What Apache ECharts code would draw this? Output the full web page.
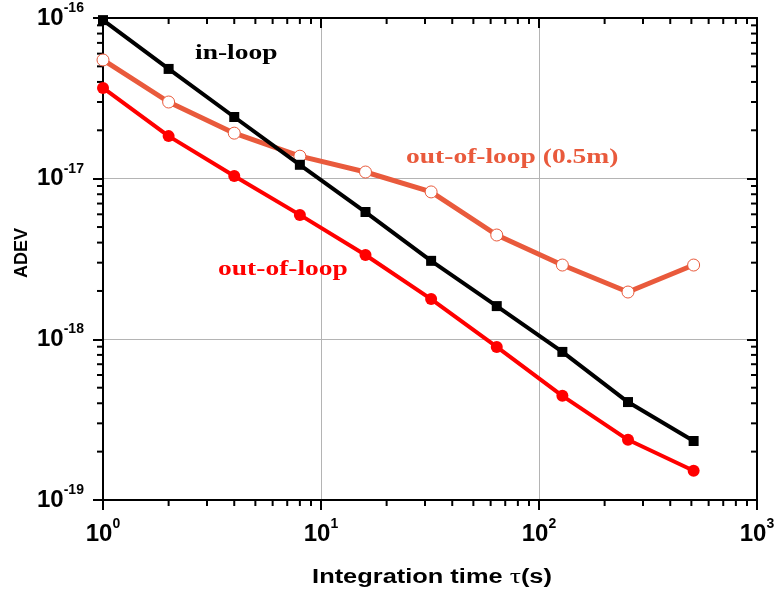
<!DOCTYPE html>
<html><head><meta charset="utf-8">
<script src="https://cdn.jsdelivr.net/npm/echarts@6/dist/echarts.min.js"></script>
<style>html,body{margin:0;padding:0;background:#fff}#c{width:774px;height:597px}</style>
</head><body><div id="c"></div>
<script>
// integration time tau (s)
const tau = [1, 2, 4, 8, 16, 32, 64, 128, 256, 512];
// ADEV values
const inLoop    = [9.7e-17, 4.82e-17, 2.42e-17, 1.22e-17, 6.2e-18, 3.08e-18, 1.61e-18, 8.35e-19, 4.07e-19, 2.33e-19];
const outLoop   = [3.67e-17, 1.84e-17, 1.04e-17, 5.95e-18, 3.35e-18, 1.78e-18, 8.97e-19, 4.45e-19, 2.37e-19, 1.52e-19];
const outLoop05 = [5.48e-17, 3.0e-17, 1.92e-17, 1.38e-17, 1.10e-17, 8.27e-18, 4.46e-18, 2.9e-18, 1.97e-18, 2.9e-18];
// axis ticks
const X_MIN = 1, X_MAX = 1000;
const Y_MIN = 1e-19, Y_MAX = 1e-16;
const xDecades = [1, 10, 100];
const yDecades = [1e-19, 1e-18, 1e-17];
const mantissas = [2, 3, 4, 5, 6, 7, 8, 9];
const xMinor = xDecades.flatMap(d => mantissas.map(m => m * d));
const yMinor = yDecades.flatMap(d => mantissas.map(m => m * d));

const cBlack = '#000000', cRed = '#ff0000', cOrange = '#e95a3c';
const sans = '"Liberation Sans", Arial, sans-serif';
const serif = '"Liberation Serif", "Times New Roman", serif';

function powLabel(v) {
  const e = Math.round(Math.log10(v));
  return '{b|10}{s|' + e + '}';
}
const labelRich = {
  b: { fontSize: 24, fontWeight: 'bold', fontFamily: sans, color: '#000', lineHeight: 34 },
  s: { fontSize: 14, fontWeight: 'bold', fontFamily: sans, color: '#000', lineHeight: 14, verticalAlign: 'top' }
};
const axisLine = { show: true, onZero: false, lineStyle: { color: '#000', width: 2 } };
const xs = (vals) => tau.map((t, i) => [t, vals[i]]);

const chart = echarts.init(document.getElementById('c'), null, { renderer: 'canvas' });
chart.setOption({
  animation: false,
  backgroundColor: '#fff',
  grid: { left: 103, right: 17, top: 18, bottom: 97, containLabel: false, outerBoundsMode: 'none' },
  xAxis: [{
    type: 'log', logBase: 10, min: X_MIN, max: X_MAX, position: 'bottom',
    axisLine: axisLine,
    axisTick: { show: true, inside: false, length: 10, lineStyle: { color: '#000', width: 2 } },
    axisLabel: { show: true, margin: 17, formatter: powLabel, rich: labelRich, showMinLabel: true, showMaxLabel: true },
    splitLine: { show: true, lineStyle: { color: '#b4b4b4', width: 1 } }
  }, {
    type: 'log', logBase: 10, min: X_MIN, max: X_MAX, position: 'top',
    axisLine: axisLine,
    axisTick: { show: true, inside: true, length: 10, lineStyle: { color: '#000', width: 2 } },
    axisLabel: { show: false }, splitLine: { show: false }
  }],
  yAxis: [{
    type: 'log', logBase: 10, min: Y_MIN, max: Y_MAX, position: 'left',
    axisLine: axisLine,
    axisTick: { show: true, inside: false, length: 10, lineStyle: { color: '#000', width: 2 } },
    axisLabel: { show: true, margin: 66, align: 'left', formatter: powLabel, rich: labelRich, showMinLabel: true, showMaxLabel: true },
    splitLine: { show: true, lineStyle: { color: '#b4b4b4', width: 1 } }
  }, {
    type: 'log', logBase: 10, min: Y_MIN, max: Y_MAX, position: 'right',
    axisLine: axisLine,
    axisTick: { show: true, inside: true, length: 10, lineStyle: { color: '#000', width: 2 } },
    axisLabel: { show: false }, splitLine: { show: false }
  }],
  series: [
    {
      name: 'out-of-loop (0.5m)', type: 'line', data: xs(outLoop05),
      symbol: 'circle', symbolSize: 12, z: 3,
      lineStyle: { color: cOrange, width: 5 },
      itemStyle: { color: '#ffffff', borderColor: cOrange, borderWidth: 1 }
    },
    {
      name: 'in-loop', type: 'line', data: xs(inLoop),
      symbol: 'rect', symbolSize: 10, z: 4,
      lineStyle: { color: cBlack, width: 4 },
      itemStyle: { color: cBlack }
    },
    {
      name: 'out-of-loop', type: 'line', data: xs(outLoop),
      symbol: 'circle', symbolSize: 12, z: 5,
      lineStyle: { color: cRed, width: 4 },
      itemStyle: { color: cRed }
    }
  ]
});

// minor ticks positioned through the axes' own log scales
function px(finder, v) {
  const r = chart.convertToPixel(finder, v);
  return Number(Array.isArray(r) ? r[0] : r);
}
const yb = px({ yAxisIndex: 0 }, Y_MIN), yt = px({ yAxisIndex: 0 }, Y_MAX);
const xl = px({ xAxisIndex: 0 }, X_MIN), xr = px({ xAxisIndex: 0 }, X_MAX);

const gfx = [];
xMinor.forEach(v => {
  const x = px({ xAxisIndex: 0 }, v);
  gfx.push({ type: 'rect', shape: { x: x - 1, y: yb, width: 2, height: 6 }, style: { fill: '#000' } });
  gfx.push({ type: 'rect', shape: { x: x - 1, y: yt, width: 2, height: 6 }, style: { fill: '#000' } });
});
yMinor.forEach(v => {
  const y = px({ yAxisIndex: 0 }, v);
  gfx.push({ type: 'rect', shape: { x: xl - 6, y: y - 1, width: 6, height: 2 }, style: { fill: '#000' } });
  gfx.push({ type: 'rect', shape: { x: xr - 6, y: y - 1, width: 6, height: 2 }, style: { fill: '#000' } });
});
// series annotations
gfx.push({ type: 'text', left: 195, top: 43, scaleX: 1.31, style: { text: 'in-loop', font: 'bold 21px ' + serif, fill: cBlack } });
gfx.push({ type: 'text', left: 406, top: 147, scaleX: 1.31, style: { text: 'out-of-loop (0.5m)', font: 'bold 21px ' + serif, fill: cOrange } });
gfx.push({ type: 'text', left: 218, top: 259, scaleX: 1.31, style: { text: 'out-of-loop', font: 'bold 21px ' + serif, fill: cRed } });
// axis titles
gfx.push({ type: 'text', x: 22, y: 253, rotation: Math.PI / 2,
  style: { text: 'ADEV', font: 'bold 18px ' + sans, fill: '#000', align: 'center', verticalAlign: 'middle' } });
gfx.push({ type: 'text', x: 432, y: 577, scaleX: 1.27,
  style: { text: '{a|Integration time }{t|τ}{a|(s)}', align: 'center', verticalAlign: 'middle',
    rich: {
      a: { fontSize: 20, fontWeight: 'bold', fontFamily: sans, fill: '#000', color: '#000' },
      t: { fontSize: 22, fontWeight: 'normal', fontFamily: serif, fill: '#000', color: '#000' }
    } } });
chart.setOption({ graphic: gfx });
</script>
</body></html>
